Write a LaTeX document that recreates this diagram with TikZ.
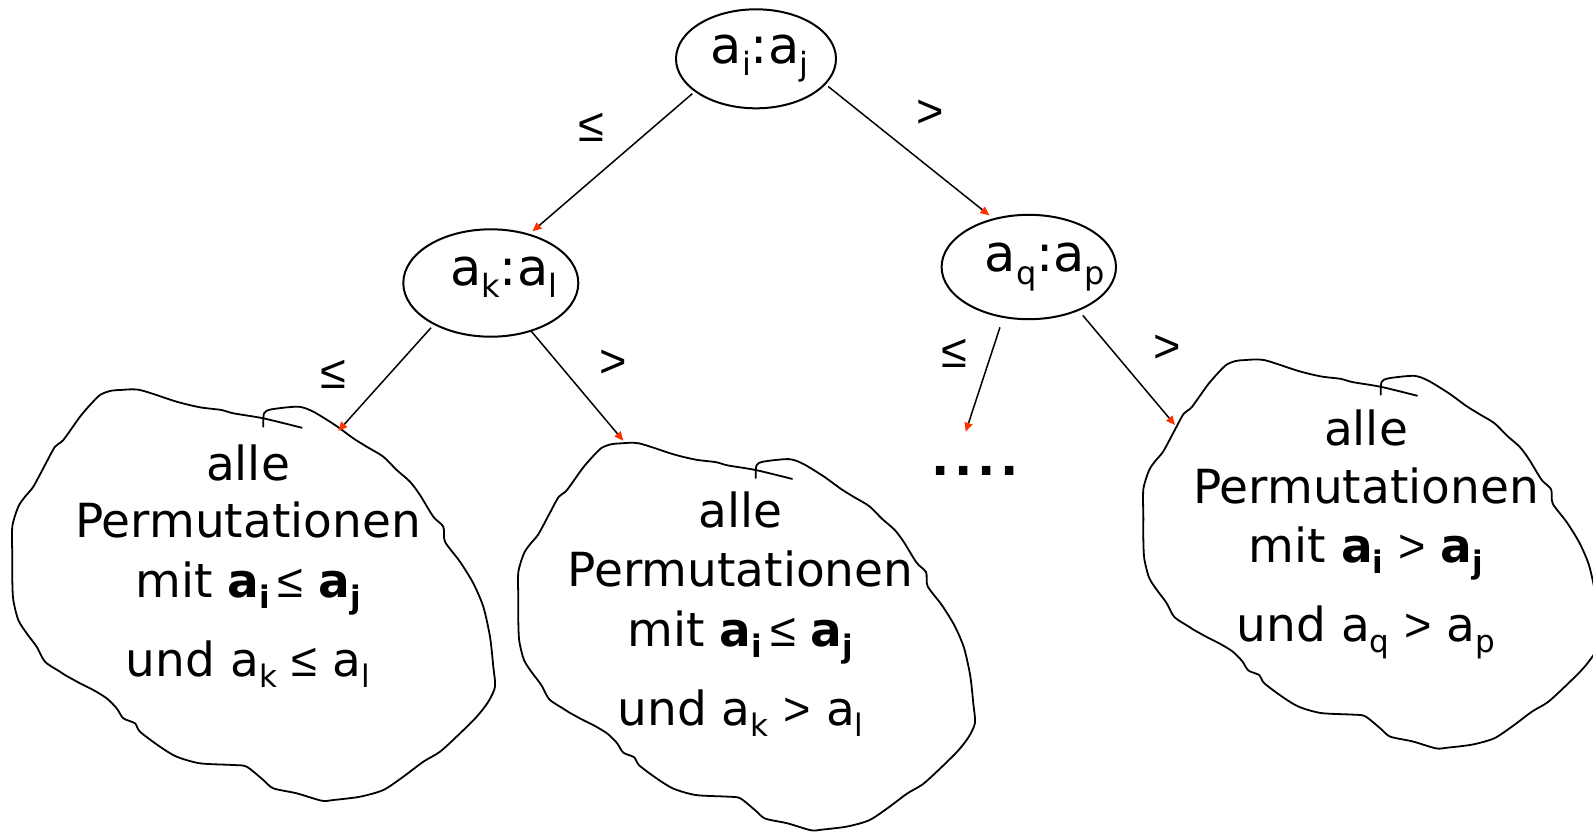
\documentclass[tikz,border=0pt]{standalone}
\usepackage{fontspec}
\setmainfont{DejaVu Sans}
\newfontfamily\libsans{Liberation Sans}
\usetikzlibrary{arrows.meta,shapes.geometric}
\definecolor{tipred}{RGB}{255,51,0}
\newcommand\sbB[1]{\raisebox{-5.5pt}{\fontsize{15.5pt}{15pt}\selectfont #1}}
\newcommand\sbE[1]{\raisebox{-6.3pt}{\fontsize{16pt}{15pt}\selectfont #1}}
\newcommand\rle{{\libsans ≤}}
\newcommand\rgt{{\libsans >}}
\begin{document}
\begin{tikzpicture}[x=0.5pt,y=-0.5pt,
  every node/.style={inner sep=0pt, outer sep=0pt},
  oval/.style={draw, ellipse, line width=1pt, inner sep=0pt},
  ovaltext/.style={anchor=base, font=\fontsize{25.5pt}{30pt}\selectfont},
  blobtext/.style={anchor=base, font=\fontsize{23.5pt}{28pt}\selectfont},
  rel/.style={anchor=center, font=\fontsize{23.5pt}{28pt}\selectfont\libsans},
  blobline/.style={line width=0.9pt, line join=round, line cap=round},
  conn/.style={line width=0.75pt, -{Triangle[length=4.5pt,width=4pt,color=tipred]}}
]
\useasboundingbox (0,0) rectangle (1593,831);

% ellipses
\node[oval, minimum width=80pt, minimum height=49.5pt] (e1) at (756,58.8) {};
\node[oval, minimum width=87.5pt, minimum height=53.7pt] (e2) at (490.8,283) {};
\node[oval, minimum width=87.2pt, minimum height=52.2pt] (e3) at (1028.8,267) {};

\node[ovaltext] (t1) at (759.5,63.3) {a\sbE{i}:a\sbE{j}};
\node[ovaltext] (t2) at (503.7,285) {a\sbE{k}:a\sbE{l}};
\node[ovaltext] (t3) at (1045,271.7) {a\sbE{q}:a\sbE{p}};

% blobs
\foreach \sx/\sy/\dx/\dy in {1/1/0/0, 0.946/0.942/506.7/76, 0.946/0.9455/1131.7/-8.7} {
  \begin{scope}[shift={(\dx,\dy)}, xscale=\sx, yscale=\sy]
    \draw[blobline] plot[smooth, tension=0.45] coordinates {
      (263.3,426.7) (264,413.3) (271.7,409.3) (298.3,406.7) (313.3,411.7) (335,425)
      (353.3,438.3) (366.7,446.7) (383.3,456.7) (396.7,470) (410,481.7) (420,495)
      (433.3,516.7) (443.3,526.7) (445,541.7) (460,561.7) (473.3,583.3) (483.3,606.7)
      (490,636.7) (493.3,666.7) (495,686.7) (488.3,701.7) (476.7,716.7) (458.3,735)
      (440,751.7) (423.3,761.7) (403.3,776.7) (383.3,790) (360,796.7) (333.3,800)
      (321.7,800.7) (296.7,793.3) (273.3,788.3) (263.3,780) (246.7,766.7) (233.3,765)
      (200,763.3) (176.7,756.7) (160,746.7) (140,731.7) (135,723.3) (123.3,718.3)
      (116.7,708.3) (106.7,698.3) (93.3,690) (80,683.3) (65,675) (60,671.7)
      (45,661.7) (36.7,646.7) (26.7,633.3) (18.3,620) (13.3,600) (12.3,580)
      (12.3,556.7) (12.3,526.7) (18.3,506.7) (25,496.7) (33.3,486.7) (45,465)
      (55,446.7) (63.3,440) (80,416.7) (90,405) (100,395) (110,391) (120,390)
      (140,390) (176.7,401.7) (200,407.3) (221.7,410) (233.3,413.3) (263.3,418.3)
      (301.7,427.7)};
  \end{scope}
}

% blob texts
\node[blobtext] (b1a) at (248,480) {alle};
\node[blobtext] (b1b) at (248,537.3) {Permutationen};
\node[blobtext] (b1c) at (248,597.3) {mit \textbf{a\sbB{i}}\,\rle{} \textbf{a\sbB{j}}};
\node[blobtext] (b1d) at (248,676.7) {und a\sbB{k} \rle{} a\sbB{l}};

\node[blobtext] (b2a) at (740.5,527.7) {alle};
\node[blobtext] (b2b) at (740.5,586) {Permutationen};
\node[blobtext] (b2c) at (740.5,646) {mit \textbf{a\sbB{i}}\,\rle{} \textbf{a\sbB{j}}};
\node[blobtext] (b2d) at (740.5,725.7) {und a\sbB{k} \rgt{} a\sbB{l}};

\node[blobtext] (b3a) at (1366,445) {alle};
\node[blobtext] (b3b) at (1366,503.3) {Permutationen};
\node[blobtext] (b3c) at (1366,562.3) {mit \textbf{a\sbB{i}} \rgt{} \textbf{a\sbB{j}}};
\node[blobtext] (b3d) at (1366,641.7) {und a\sbB{q} \rgt{} a\sbB{p}};

% dots
\node[anchor=base, font=\fontsize{24pt}{28pt}\selectfont\bfseries] (dots) at (975,475.7) {.\hspace{2.5pt}.\hspace{2.5pt}.\hspace{2.5pt}.};

% edge labels
\node[rel] (l1) at (591,127) {≤};
\node[rel] (l2) at (930.5,114) {>};
\node[rel] (l3) at (333.7,374.4) {≤};
\node[rel] (l4) at (613.7,364.2) {>};
\node[rel] (l5) at (954,353) {≤};
\node[rel] (l6) at (1166.8,349) {>};

% connectors
\coordinate (b1in) at (338.3,431);
\coordinate (b2in) at (623.3,440.7);
\coordinate (b3in) at (1175,425);
\coordinate (dotsin) at (965.7,431.7);

\draw[conn, shorten <=2pt, shorten >=2.5pt] (e1.208) -- (e2.52);
\draw[conn, shorten <=2pt, shorten >=3pt] (e1.-20.6) -- (e3.126.2);
\draw[conn, shorten <=2.5pt] (e2.216.7) -- (b1in);
\draw[conn] (e2.-50.2) -- (b2in);
\draw[conn, shorten <=5.5pt] (e3.243.5) -- (dotsin);
\draw[conn, shorten <=3.5pt] (e3.-41.7) -- (b3in);
\end{tikzpicture}
\end{document}
